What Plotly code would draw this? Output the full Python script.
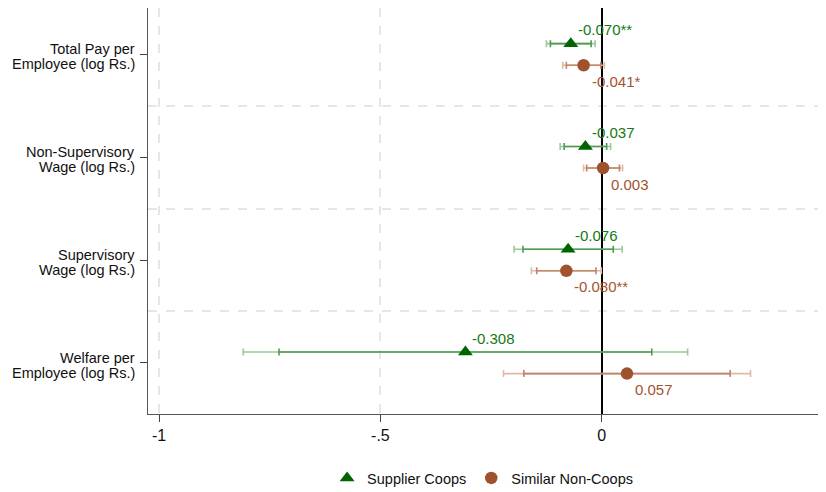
import plotly.graph_objects as go

# ---- data ----
outcome_line1 = ["Total Pay per", "Non-Supervisory", "Supervisory", "Welfare per"]
outcome_line2 = ["Employee (log Rs.)", "Wage (log Rs.)", "Wage (log Rs.)", "Employee (log Rs.)"]
cat_pos = [4, 3, 2, 1]

coop_est = [-0.070, -0.037, -0.076, -0.308]
coop_lo90 = [-0.116, -0.085, -0.178, -0.729]
coop_hi90 = [-0.024, 0.011, 0.026, 0.113]
coop_lo95 = [-0.125, -0.094, -0.198, -0.810]
coop_hi95 = [-0.015, 0.020, 0.046, 0.194]
coop_text = ["-0.070**", "-0.037", "-0.076", "-0.308"]

non_est = [-0.041, 0.003, -0.080, 0.057]
non_lo90 = [-0.080, -0.034, -0.147, -0.176]
non_hi90 = [-0.002, 0.040, -0.013, 0.290]
non_lo95 = [-0.088, -0.041, -0.159, -0.222]
non_hi95 = [0.006, 0.047, -0.001, 0.336]
non_text = ["-0.041*", "0.003", "-0.080**", "0.057"]

x_tickvals = [-1, -0.5, 0, 0.5]
x_ticktext = ["-1", "-.5", "0", ".5"]

series_names = ["Supplier Coops", "Similar Non-Coops"]

FONT = "Helvetica, Arial, 'Liberation Sans', sans-serif"
OFF = 0.105

GREEN = "#006400"
GREEN_TXT = "#137a13"
GREEN_IN = "#4f9a4f"
GREEN_OUT = "#9cc89c"
ORANGE = "#a0522d"
ORANGE_TXT = "#a3542f"
ORANGE_IN = "#c08468"
ORANGE_OUT = "#dfb9a8"
GRID = "#e6e6e6"

fig = go.Figure()

def ci_trace(est, lo, hi, y, color):
    return go.Scatter(
        x=est, y=y, mode="markers",
        marker=dict(size=1, opacity=0),
        error_x=dict(type="data", symmetric=False,
                     array=[h - e for h, e in zip(hi, est)],
                     arrayminus=[e - l for e, l in zip(est, lo)],
                     color=color, thickness=1.6, width=3.5),
        showlegend=False, hoverinfo="skip")

y_coop = [p + OFF for p in cat_pos]
y_non = [p - OFF for p in cat_pos]

fig.add_trace(ci_trace(coop_est, coop_lo95, coop_hi95, y_coop, GREEN_OUT))
fig.add_trace(ci_trace(coop_est, coop_lo90, coop_hi90, y_coop, GREEN_IN))
fig.add_trace(ci_trace(non_est, non_lo95, non_hi95, y_non, ORANGE_OUT))
fig.add_trace(ci_trace(non_est, non_lo90, non_hi90, y_non, ORANGE_IN))

fig.add_trace(go.Scatter(x=coop_est, y=y_coop, mode="markers", name=series_names[0],
                         marker=dict(symbol="triangle-up", size=13, color=GREEN)))
fig.add_trace(go.Scatter(x=non_est, y=y_non, mode="markers", name=series_names[1],
                         marker=dict(symbol="circle", size=12.5, color=ORANGE)))

annotations = []
for e, y, t in zip(coop_est, y_coop, coop_text):
    annotations.append(dict(x=e, y=y, text=t, showarrow=False, xanchor="left", yanchor="middle",
                            xshift=5, yshift=14, font=dict(family=FONT, size=15, color=GREEN_TXT)))
for e, y, t in zip(non_est, y_non, non_text):
    annotations.append(dict(x=e, y=y, text=t, showarrow=False, xanchor="left", yanchor="middle",
                            xshift=6, yshift=-16, font=dict(family=FONT, size=15, color=ORANGE_TXT)))
for l1, l2, p in zip(outcome_line1, outcome_line2, cat_pos):
    annotations.append(dict(xref="paper", x=0, y=p, text=l1, showarrow=False, xanchor="right",
                            yanchor="middle", xshift=-11, yshift=5,
                            font=dict(family=FONT, size=14.5, color="#111")))
    annotations.append(dict(xref="paper", x=0, y=p, text=l2, showarrow=False, xanchor="right",
                            yanchor="middle", xshift=-11, yshift=-10,
                            font=dict(family=FONT, size=14.5, color="#111")))
# last tick label sits at the page edge (partly cut off), drawn as annotation so it is not hidden
annotations.append(dict(x=x_tickvals[-1], xref="x", yref="paper", y=0, text=x_ticktext[-1],
                        showarrow=False, xanchor="center", yanchor="top", yshift=-9,
                        font=dict(family=FONT, size=16, color="#111")))

# grid line for the last tick, which sits right at the plot edge
shapes = [dict(type="line", xref="x", yref="paper", x0=x_tickvals[-1], x1=x_tickvals[-1], y0=0, y1=1,
               line=dict(color=GRID, width=1.5, dash="dash"), layer="below")]

fig.update_layout(
    width=818, height=484,
    margin=dict(l=140, r=2, t=0, b=78),
    paper_bgcolor="white", plot_bgcolor="white",
    font=dict(family=FONT, color="#111"),
    annotations=annotations,
    shapes=shapes,
    legend=dict(orientation="h", x=0.495, xanchor="center", yref="container", y=0.029,
                yanchor="middle",
                font=dict(family=FONT, size=14.5, color="#111"), bgcolor="rgba(0,0,0,0)"),
    xaxis=dict(range=[-1.025, 0.502], tickvals=x_tickvals, ticktext=x_ticktext,
               tickfont=dict(family=FONT, size=16, color="#111"),
               ticks="outside", ticklen=7, tickcolor="#444", tickwidth=1.2,
               showline=True, linecolor="#555", linewidth=1.4,
               showgrid=True, gridcolor=GRID, griddash="dash", gridwidth=1.5,
               zeroline=True, zerolinecolor="#000", zerolinewidth=1.6),
    yaxis=dict(range=[0.502, 4.452], tickvals=cat_pos, ticktext=["", "", "", ""],
               ticks="outside", ticklen=7, tickcolor="#444", tickwidth=1.2,
               showline=True, linecolor="#555", linewidth=1.4,
               showgrid=False, zeroline=False,
               minor=dict(tickvals=[1.5, 2.5, 3.5], showgrid=True, gridcolor=GRID,
                          griddash="dash", gridwidth=1.5, ticks="")),
)

fig.write_html("out.html")
